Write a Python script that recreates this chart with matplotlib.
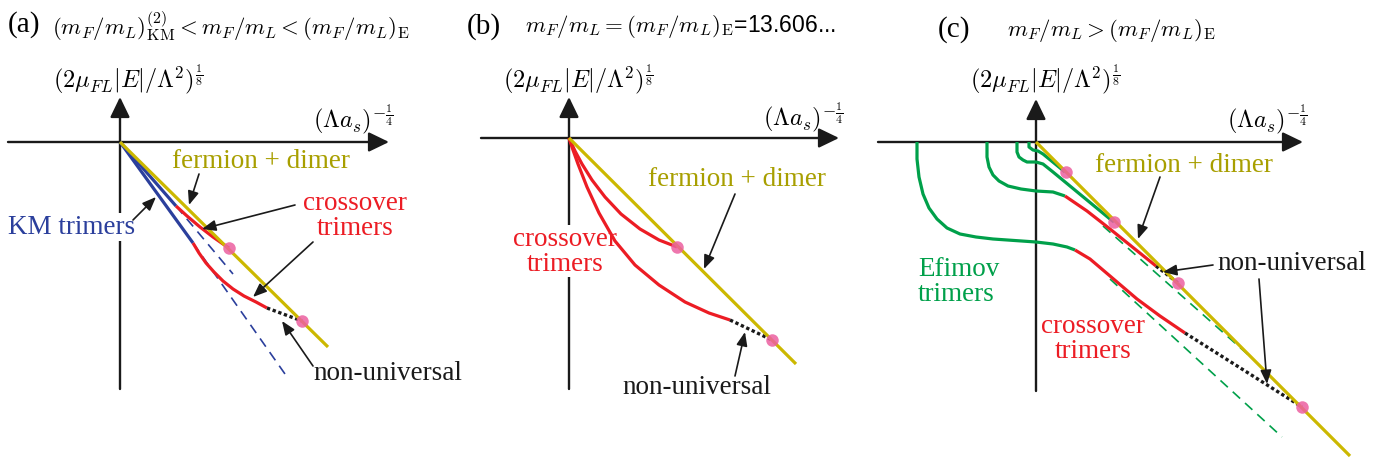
import matplotlib
matplotlib.use("Agg")
import matplotlib.pyplot as plt

plt.rcParams['mathtext.fontset'] = 'cm'
plt.rcParams['font.family'] = ['Liberation Serif', 'DejaVu Serif']

# ---------------- colours ----------------
C_AX = '#1a1a1a'
C_YEL = '#ccb800'
C_OLIVE = '#a89f00'
C_RED = '#ec1c24'
C_BLUE = '#2b3f9c'
C_GREEN = '#00a04a'
C_PINK = '#ec5fa0'

# ---------------- panel (a) data (local units, origin at axis cross) ----------------
a_axis_x = [-112, 269]
a_axis_y = [-247, 45]
a_dimer_x = [0, 208]
a_dimer_y = [0, -205]
a_km1_x = [0, 56]
a_km1_y = [0, -64]
a_km1_dash_x = [56, 113]
a_km1_dash_y = [-64, -132]
a_km2_x = [0, 73]
a_km2_y = [0, -101]
a_km2_dash_x = [73, 165]
a_km2_dash_y = [-101, -232]
a_cross1_x = [56, 67, 80, 93, 103, 109]
a_cross1_y = [-64, -74, -85, -95, -102, -106]
a_cross2_x = [73, 79, 86, 94, 103, 113, 124, 136, 147]
a_cross2_y = [-101, -111, -121, -130, -139, -147, -154, -160, -166]
a_nonuni_x = [147, 182]
a_nonuni_y = [-166, -179]
a_dots_x = [109, 182]
a_dots_y = [-106, -179]

# ---------------- panel (b) data ----------------
b_axis_x = [-88, 270]
b_axis_y = [-251, 41]
b_dimer_x = [0, 227]
b_dimer_y = [0, -226]
b_cross1_x = [0, 6, 13, 23, 36, 52, 71, 90, 108]
b_cross1_y = [0, -13, -26, -42, -59, -76, -91, -102, -109]
b_cross2_x = [0, 4, 9, 18, 30, 46, 66, 90, 116, 140, 161]
b_cross2_y = [0, -12, -26, -49, -75, -103, -127, -147, -164, -175, -182]
b_nonuni_x = [161, 203]
b_nonuni_y = [-182, -202]
b_dots_x = [108, 203]
b_dots_y = [-109, -202]

# ---------------- panel (c) data ----------------
c_axis_x = [-158, 267]
c_axis_y = [-249, 43]
c_dimer_x = [0, 314]
c_dimer_y = [0, -314]
c_ef1_x = [-119, -119, -117, -113, -107, -99, -89, -76, -60, -43, 0, 17, 31, 39]
c_ef1_y = [0, -17, -35, -52, -66, -77, -86, -92, -95, -97, -100, -102, -105, -108]
c_cr1_x = [39, 54, 74, 101, 124, 149]
c_cr1_y = [-108, -117, -134, -157, -174, -191]
c_nu1_x = [149, 266]
c_nu1_y = [-191, -265]
c_ef2_x = [-49, -49, -47, -43, -37, -28, -15, 0, 17, 29]
c_ef2_y = [0, -15, -25, -33, -39, -44, -47, -49, -50, -54]
c_cr2_x = [29, 51, 74, 120]
c_cr2_y = [-54, -69, -87, -124]
c_nu2_x = [120, 142]
c_nu2_y = [-124, -141]
c_ef3_x = [-19, -19, -17, -13, -9, 0, 7, 17, 74, 78]
c_ef3_y = [0, -10, -15, -18, -20, -20, -22, -30, -77, -80]
c_ef4_x = [-7, -7, -3, 2, 7, 29]
c_ef4_y = [0, -5, -8, -9, -12, -30]
c_dash1_x = [67, 217]
c_dash1_y = [-84, -217]
c_dash2_x = [74, 246]
c_dash2_y = [-137, -295]
c_dots_x = [30, 78, 142, 266]
c_dots_y = [-30, -80, -141, -265]

# ---------------- figure ----------------
W, H = 1380, 460
fig = plt.figure(figsize=(W / 100, H / 100), dpi=100)

def make_ax(px0, px1, ox, oy):
    ax = fig.add_axes([px0 / W, 0, (px1 - px0) / W, 1])
    ax.set_xlim(px0 - ox, px1 - ox)
    ax.set_ylim(oy - H, oy)
    ax.axis('off')
    return ax

LW = 2.3
AX_ARROW = dict(arrowstyle='-|>,head_length=0.62,head_width=0.3', lw=1.7,
                color=C_AX, mutation_scale=20, shrinkA=0, shrinkB=0)
PTR = dict(arrowstyle='-|>,head_length=0.55,head_width=0.22', lw=1.2,
           color=C_AX, mutation_scale=15, shrinkA=0, shrinkB=0)

def axes_cross(ax, xr, yr):
    ax.annotate('', xy=(xr[1], 0), xytext=(xr[0], 0), arrowprops=AX_ARROW, zorder=1)
    ax.annotate('', xy=(0, yr[1]), xytext=(0, yr[0]), arrowprops=AX_ARROW, zorder=1)

def pointer(ax, start, end):
    ax.annotate('', xy=end, xytext=start, arrowprops=PTR, zorder=6)

def dots(ax, xs, ys):
    ax.plot(xs, ys, 'o', ms=9, color=C_PINK, alpha=0.85, mec='none', zorder=7)

def curve(ax, xs, ys, color, z=3):
    ax.plot(xs, ys, color=color, lw=LW, zorder=z, solid_joinstyle='round',
            solid_capstyle='butt')

def dotted(ax, xs, ys):
    ax.plot(xs, ys, color=C_AX, lw=2.4, ls=(0, (1, 0.8)), zorder=3)

YLAB = r'$(2\mu_{FL}|E|/\Lambda^2)^{\frac{1}{8}}$'
XLAB = r'$(\Lambda a_s)^{-\frac{1}{4}}$'
FS_LAB = 17.5
FS_TXT = 19.5
FS_PANEL = 21
FS_TITLE = 16.5
WHITE_BOX = dict(facecolor='white', edgecolor='none', pad=1)

# ---------- panel (a) ----------
ax = make_ax(0, 460, 120, 143)
axes_cross(ax, a_axis_x, a_axis_y)
ax.text(-112, 118, '(a)', fontsize=FS_PANEL, va='center', ha='left')
ax.text(-68, 117, r'$(m_F/m_L)^{(2)}_{\rm KM} < m_F/m_L < (m_F/m_L)_{\rm E}$',
        fontsize=FS_TITLE, va='center', ha='left')
ax.text(-67, 63, YLAB, fontsize=FS_LAB, va='center', ha='left')
ax.text(193, 23, XLAB, fontsize=FS_LAB, va='center', ha='left')
ax.plot(a_km1_dash_x, a_km1_dash_y, color=C_BLUE, lw=1.2, dashes=(6, 4), zorder=2.5)
ax.plot(a_km2_dash_x, a_km2_dash_y, color=C_BLUE, lw=1.2, dashes=(6, 4), zorder=2.5)
curve(ax, a_km1_x, a_km1_y, C_BLUE)
curve(ax, a_km2_x, a_km2_y, C_BLUE)
curve(ax, a_cross1_x, a_cross1_y, C_RED)
curve(ax, a_cross2_x, a_cross2_y, C_RED)
dotted(ax, a_nonuni_x, a_nonuni_y)
curve(ax, a_dimer_x, a_dimer_y, C_YEL, z=4)
dots(ax, a_dots_x, a_dots_y)
ax.text(141, -19, 'fermion + dimer', color=C_OLIVE, fontsize=FS_TXT, ha='center', va='center')
ax.text(-48, -85, 'KM trimers', color=C_BLUE, fontsize=FS_TXT, ha='center', va='center',
        bbox=WHITE_BOX, zorder=2)
ax.text(235, -73, 'crossover\ntrimers', color=C_RED, fontsize=FS_TXT, ha='center',
        va='center', linespacing=0.95)
ax.text(193, -230, 'non-universal', color=C_AX, fontsize=FS_TXT, ha='left', va='center')
pointer(ax, (79, -32), (69, -63))
pointer(ax, (13, -78), (36, -55))
pointer(ax, (175, -63), (82, -87))
pointer(ax, (193, -100), (133, -155))
pointer(ax, (193, -224), (162, -179))

# ---------- panel (b) ----------
ax = make_ax(460, 870, 569, 139)
axes_cross(ax, b_axis_x, b_axis_y)
ax.text(-102, 112, '(b)', fontsize=FS_PANEL, va='center', ha='left')
ax.text(-44, 112, r'$m_F/m_L=(m_F/m_L)_{\rm E}$=13.606...', family='Liberation Sans',
        fontsize=FS_TITLE, va='center', ha='left')
ax.text(-66, 59, YLAB, fontsize=FS_LAB, va='center', ha='left')
ax.text(194, 21, XLAB, fontsize=FS_LAB, va='center', ha='left')
curve(ax, b_cross1_x, b_cross1_y, C_RED)
curve(ax, b_cross2_x, b_cross2_y, C_RED)
dotted(ax, b_nonuni_x, b_nonuni_y)
curve(ax, b_dimer_x, b_dimer_y, C_YEL, z=4)
dots(ax, b_dots_x, b_dots_y)
ax.text(168, -41, 'fermion + dimer', color=C_OLIVE, fontsize=FS_TXT, ha='center', va='center')
ax.text(-4, -113, 'crossover\ntrimers', color=C_RED, fontsize=FS_TXT, ha='center',
        va='center', linespacing=0.95, bbox=WHITE_BOX, zorder=2)
ax.text(53, -249, 'non-universal', color=C_AX, fontsize=FS_TXT, ha='left', va='center')
pointer(ax, (166, -56), (135, -131))
pointer(ax, (166, -238), (176, -194))

# ---------- panel (c) ----------
ax = make_ax(870, 1380, 1036, 143)
axes_cross(ax, c_axis_x, c_axis_y)
ax.text(-98, 113, '(c)', fontsize=FS_PANEL, va='center', ha='left')
ax.text(-29, 113, r'$m_F/m_L > (m_F/m_L)_{\rm E}$', fontsize=FS_TITLE, va='center', ha='left')
ax.text(-66, 63, YLAB, fontsize=FS_LAB, va='center', ha='left')
ax.text(191, 23, XLAB, fontsize=FS_LAB, va='center', ha='left')
ax.plot(c_dash1_x, c_dash1_y, color=C_GREEN, lw=1.2, dashes=(6, 4), zorder=2.5)
ax.plot(c_dash2_x, c_dash2_y, color=C_GREEN, lw=1.2, dashes=(6, 4), zorder=2.5)
for xs, ys in [(c_ef1_x, c_ef1_y), (c_ef2_x, c_ef2_y), (c_ef3_x, c_ef3_y), (c_ef4_x, c_ef4_y)]:
    curve(ax, xs, ys, C_GREEN)
for xs, ys in [(c_cr1_x, c_cr1_y), (c_cr2_x, c_cr2_y)]:
    curve(ax, xs, ys, C_RED)
for xs, ys in [(c_nu1_x, c_nu1_y), (c_nu2_x, c_nu2_y)]:
    dotted(ax, xs, ys)
curve(ax, c_dimer_x, c_dimer_y, C_YEL, z=4)
dots(ax, c_dots_x, c_dots_y)
ax.text(148, -22, 'fermion + dimer', color=C_OLIVE, fontsize=FS_TXT, ha='center', va='center')
ax.text(-118, -139, 'Efimov\ntrimers', color=C_GREEN, fontsize=FS_TXT, ha='left',
        va='center', linespacing=0.95)
ax.text(57, -196, 'crossover\ntrimers', color=C_RED, fontsize=FS_TXT, ha='center',
        va='center', linespacing=0.95)
ax.text(181, -120, 'non-universal', color=C_AX, fontsize=FS_TXT, ha='left', va='center')
pointer(ax, (124, -35), (102, -97))
pointer(ax, (177, -123), (127, -130))
pointer(ax, (223, -137), (231, -242))

fig.savefig('out.png', dpi=100)
